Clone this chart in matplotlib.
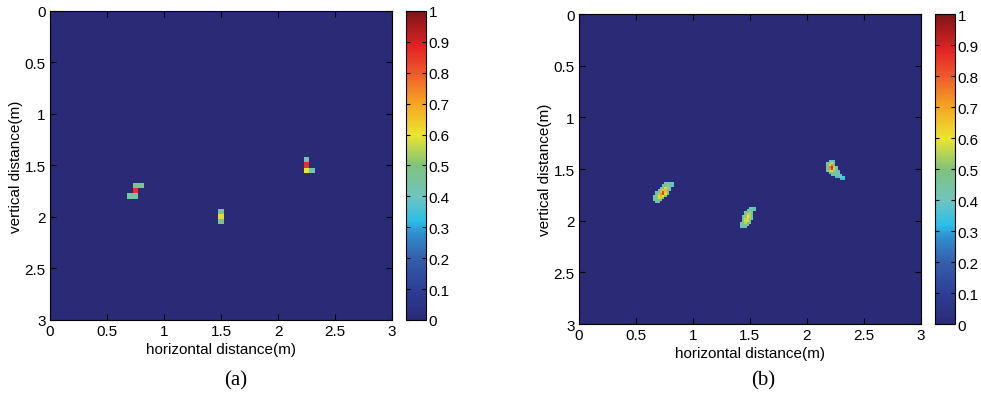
import numpy as np
import matplotlib.pyplot as plt
from matplotlib.colors import LinearSegmentedColormap

# --- data (a): coarse 0.05 m grid, non-zero cells only ---
a_step = 0.05
a_x = [0.75, 0.80, 0.75, 0.70, 0.75, 1.50, 1.50, 1.50, 2.25, 2.25, 2.25, 2.30]
a_y = [1.70, 1.70, 1.75, 1.80, 1.80, 1.95, 2.00, 2.05, 1.45, 1.50, 1.55, 1.55]
a_val = [0.47, 0.47, 0.86, 0.45, 0.45, 0.47, 0.62, 0.47, 0.42, 0.86, 0.60, 0.42]

# --- data (b): fine 0.02 m grid, three blobs (top-left corner x, y + values) ---
b_step = 0.02
blob1_x0, blob1_y0 = 0.66, 1.64
blob1 = [
    [0, 0, 0, 0, 0, 0.40, 0.42, 0.44, 0.40],
    [0, 0, 0, 0, 0.42, 0.48, 0.52, 0.45, 0.38],
    [0, 0, 0, 0.42, 0.50, 0.58, 0.55, 0.42, 0],
    [0, 0, 0.42, 0.52, 0.66, 0.68, 0.50, 0.40, 0],
    [0, 0.40, 0.50, 0.65, 0.82, 0.66, 0.45, 0, 0],
    [0, 0.42, 0.55, 0.72, 0.85, 0.58, 0.42, 0, 0],
    [0.40, 0.48, 0.62, 0.70, 0.60, 0.45, 0, 0, 0],
    [0.42, 0.50, 0.58, 0.55, 0.45, 0, 0, 0, 0],
    [0.42, 0.48, 0.50, 0.44, 0, 0, 0, 0, 0],
    [0, 0.42, 0.42, 0, 0, 0, 0, 0, 0],
]
blob2_x0, blob2_y0 = 1.42, 1.88
blob2 = [
    [0, 0, 0, 0, 0.40, 0.42, 0.38],
    [0, 0, 0, 0.42, 0.48, 0.48, 0.40],
    [0, 0, 0.42, 0.48, 0.52, 0.48, 0],
    [0, 0, 0.46, 0.55, 0.55, 0.45, 0],
    [0, 0.42, 0.52, 0.60, 0.55, 0.42, 0],
    [0, 0.45, 0.56, 0.63, 0.52, 0.40, 0],
    [0, 0.48, 0.58, 0.58, 0.46, 0, 0],
    [0.40, 0.48, 0.55, 0.50, 0.42, 0, 0],
    [0.40, 0.46, 0.48, 0.44, 0, 0, 0],
    [0.38, 0.42, 0.42, 0, 0, 0, 0],
]
blob3_x0, blob3_y0 = 2.18, 1.42
blob3 = [
    [0, 0.40, 0.42, 0.38, 0, 0, 0, 0],
    [0.40, 0.52, 0.58, 0.42, 0, 0, 0, 0],
    [0.44, 0.64, 0.74, 0.48, 0, 0, 0, 0],
    [0.46, 0.76, 0.88, 0.55, 0.40, 0, 0, 0],
    [0.46, 0.72, 0.86, 0.58, 0.42, 0, 0, 0],
    [0.42, 0.56, 0.62, 0.52, 0.44, 0.38, 0, 0],
    [0, 0.44, 0.50, 0.48, 0.44, 0.40, 0, 0],
    [0, 0, 0.42, 0.42, 0.42, 0.42, 0.38, 0],
    [0, 0, 0, 0, 0.36, 0.38, 0.40, 0.36],
    [0, 0, 0, 0, 0, 0, 0.34, 0.35],
]

ticks = [0, 0.5, 1, 1.5, 2, 2.5, 3]
tick_labels = ["0", "0.5", "1", "1.5", "2", "2.5", "3"]
cb_ticks = [0, 0.1, 0.2, 0.3, 0.4, 0.5, 0.6, 0.7, 0.8, 0.9, 1]
cb_labels = ["0", "0.1", "0.2", "0.3", "0.4", "0.5", "0.6", "0.7", "0.8", "0.9", "1"]

# washed-out jet, as it looks in the printed figure
cmap = LinearSegmentedColormap.from_list("printjet", [
    (0.00, "#2a2a77"), (0.10, "#2c3f96"), (0.20, "#3560ab"),
    (0.28, "#2f8fd0"), (0.32, "#2bbfe8"), (0.40, "#6fc5c0"),
    (0.50, "#80c27c"), (0.60, "#ece52e"), (0.70, "#f5a623"),
    (0.80, "#ee5a2b"), (0.88, "#e42626"), (1.00, "#7f1416")])

# build the grids
n_a = int(round(3 / a_step)) + 1
grid_a = np.zeros((n_a, n_a))
for x, y, v in zip(a_x, a_y, a_val):
    grid_a[int(round(y / a_step)), int(round(x / a_step))] = v

n_b = int(round(3 / b_step)) + 1
grid_b = np.zeros((n_b, n_b))
for x0, y0, patch in [(blob1_x0, blob1_y0, blob1), (blob2_x0, blob2_y0, blob2),
                      (blob3_x0, blob3_y0, blob3)]:
    patch = np.array(patch)
    r0 = int(round(y0 / b_step))
    c0 = int(round(x0 / b_step))
    grid_b[r0:r0 + patch.shape[0], c0:c0 + patch.shape[1]] = patch

plt.rcParams['font.family'] = ['Liberation Sans', 'DejaVu Sans']
fig = plt.figure(figsize=(9.81, 4.02), dpi=100)


def panel(rect, cbrect, grid, step, letter, letter_x):
    ax = fig.add_axes(rect)
    h = step / 2
    im = ax.imshow(grid, cmap=cmap, vmin=0, vmax=1, interpolation='nearest',
                   extent=[-h, 3 + h, 3 + h, -h], aspect='auto')
    ax.set_xlim(0, 3)
    ax.set_ylim(3, 0)
    ax.set_xticks(ticks)
    ax.set_xticklabels(tick_labels)
    ax.set_yticks(ticks)
    ax.set_yticklabels(tick_labels)
    ax.tick_params(direction='in', top=True, right=True, length=4,
                   width=0.8, labelsize=11, pad=3)
    ax.set_xlabel("horizontal distance(m)", fontsize=11, labelpad=3)
    ax.set_ylabel("vertical distance(m)", fontsize=11, labelpad=1)
    for s in ax.spines.values():
        s.set_linewidth(0.8)
    cax = fig.add_axes(cbrect)
    cb = fig.colorbar(im, cax=cax, ticks=cb_ticks)
    cb.ax.set_yticklabels(cb_labels)
    cb.ax.tick_params(direction='in', left=True, right=True, length=3,
                      width=0.8, labelsize=11, pad=2)
    cb.outline.set_linewidth(0.8)
    fig.text(letter_x, 0.04, letter, fontsize=15, ha='center',
             family='Liberation Serif')


panel([0.051, 0.2015, 0.3486, 0.7687], [0.4139, 0.2015, 0.0204, 0.7687],
      grid_a, a_step, "(a)", 0.240)
panel([0.590, 0.1915, 0.3486, 0.771], [0.9531, 0.1915, 0.0204, 0.771],
      grid_b, b_step, "(b)", 0.778)

fig.savefig("out.png", dpi=100)
